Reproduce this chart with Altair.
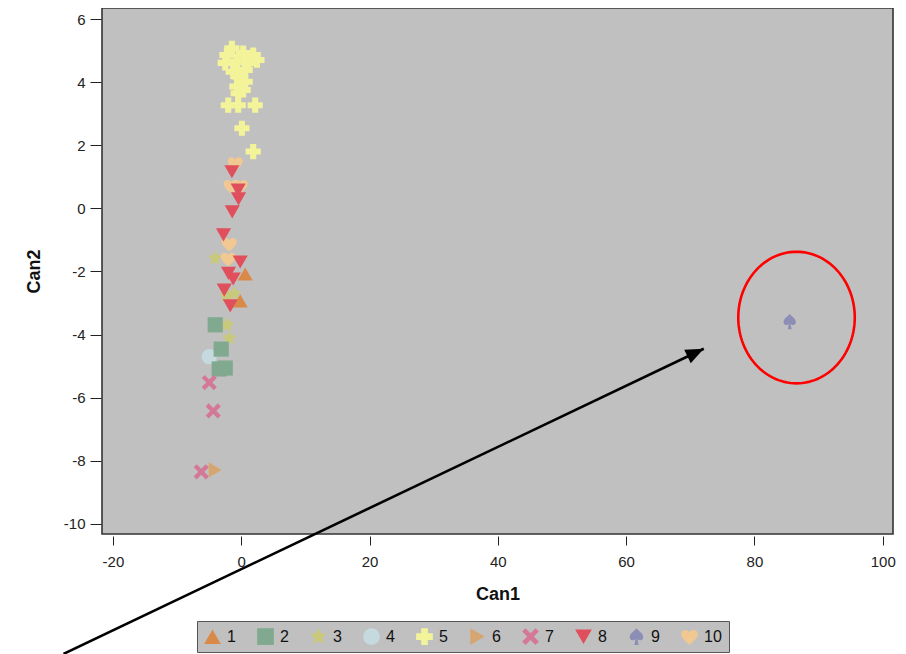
import altair as alt
import pandas as pd
import numpy as np

# ---------------- data ----------------
groups = ["1", "2", "3", "4", "5", "6", "7", "8", "9", "10"]
colors = ["#D98A48", "#80A990", "#C9C97C", "#C5DADF", "#F3F39A",
          "#D6A672", "#D47898", "#E0505C", "#8C8EB6", "#F2C892"]

g1_x = [0.62, -0.16]
g1_y = [-2.08, -2.93]
g2_x = [-4.05, -3.12, -3.43, -2.49]
g2_y = [-3.69, -4.46, -5.09, -5.06]
g3_x = [-4.05, -2.34, -1.09, -2.18, -1.87]
g3_y = [-1.58, -2.78, -2.70, -3.69, -4.11]
g4_x = [-4.98]
g4_y = [-4.70]
g5_x = [-1.45, -2.23, 0.31, 1.87, 2.45, -2.49, -0.67, 1.09, -1.25, 0.62,
        -0.16, 0.62, -0.67, 0.31, -0.47, -2.02, -0.47, 2.18, 0.11, 1.87]
g5_y = [5.07, 4.86, 4.92, 4.86, 4.70, 4.61, 4.65, 4.61, 4.33, 4.39,
        4.17, 4.01, 3.86, 3.75, 3.65, 3.27, 3.27, 3.27, 2.54, 1.80]
g6_x = [-4.05]
g6_y = [-8.29]
g7_x = [-4.98, -4.36, -6.23]
g7_y = [-5.52, -6.42, -8.35]
g8_x = [-1.45, -0.47, -0.42, -1.40, -2.76, -0.16, -1.98, -1.25, -2.65, -1.71]
g8_y = [1.16, 0.58, 0.30, -0.11, -0.84, -1.70, -2.06, -2.24, -2.59, -3.09]
g9_x = [85.5]
g9_y = [-3.59]
g10_x = [-0.93, -1.56, -0.16, -1.87, -2.02]
g10_y = [1.43, 0.71, 0.71, -1.13, -1.60]

# annotation (red ellipse around the outlier, arrow pointing to it)
ellipse_center = (86.56, -3.46)
ellipse_radii = (9.08, 2.085)
arrow_start = (-27.7, -14.12)
arrow_tip = (72.1, -4.45)

# axis settings
x_domain = [-21.7, 101.6]
y_domain = [-10.32, 6.35]
x_ticks = [-20, 0, 20, 40, 60, 80, 100]
y_ticks = [-10, -8, -6, -4, -2, 0, 2, 4, 6]

# ---------------- shapes ----------------
STAR = ("M0,-1 L0.3,-0.41 L0.951,-0.309 L0.48,0.156 L0.588,0.809 "
        "L0,0.52 L-0.588,0.809 L-0.48,0.156 L-0.951,-0.309 L-0.3,-0.41 Z")
XSHAPE = ("M-1,-0.6 L-0.6,-1 L0,-0.4 L0.6,-1 L1,-0.6 L0.4,0 L1,0.6 "
          "L0.6,1 L0,0.4 L-0.6,1 L-1,0.6 L-0.4,0 Z")
SPADE = ("M0,-1 C0.3,-0.6 0.9,-0.35 0.8,0.15 C0.7,0.55 0.3,0.5 0.12,0.3 "
         "L0.25,1 L-0.25,1 L-0.12,0.3 C-0.3,0.5 -0.7,0.55 -0.8,0.15 "
         "C-0.9,-0.35 -0.3,-0.6 0,-1 Z")
HEART = ("M0,1 C-0.3,0.7 -1,0.2 -1,-0.3 C-1,-0.8 -0.3,-1 0,-0.5 "
         "C0.3,-1 1,-0.8 1,-0.3 C1,0.2 0.3,0.7 0,1 Z")
shapes = ["triangle-up", "square", STAR, "circle", "cross",
          "triangle-right", XSHAPE, "triangle-down", SPADE, HEART]
ARROWHEAD = "M0,0 L0.42,1 L-0.42,1 Z"

# ---------------- build tables ----------------
series = {"1": (g1_x, g1_y), "2": (g2_x, g2_y), "3": (g3_x, g3_y),
          "4": (g4_x, g4_y), "5": (g5_x, g5_y), "6": (g6_x, g6_y),
          "7": (g7_x, g7_y), "8": (g8_x, g8_y), "9": (g9_x, g9_y),
          "10": (g10_x, g10_y)}
draw_order = ["5", "3", "10", "4", "2", "1", "8", "6", "7", "9"]
rows = []
for g in draw_order:
    xs_, ys_ = series[g]
    for a, b in zip(xs_, ys_):
        rows.append({"Can1": a, "Can2": b, "Group": g})
df = pd.DataFrame(rows)

W, H = 791, 526
FONT = "Liberation Sans"

xs = alt.Scale(domain=x_domain, nice=False, zero=False)
ys = alt.Scale(domain=y_domain, nice=False, zero=False)

points = alt.Chart(df).mark_point(filled=True, opacity=1, size=230).encode(
    x=alt.X("Can1:Q", scale=xs, title="Can1",
            axis=alt.Axis(values=x_ticks, grid=False, domain=False,
                          tickSize=9, offset=2, labelPadding=9,
                          titlePadding=16, labelExpr="'' + datum.value")),
    y=alt.Y("Can2:Q", scale=ys, title="Can2",
            axis=alt.Axis(values=y_ticks, grid=False, domain=False,
                          tickSize=11, offset=1, labelPadding=5,
                          titlePadding=20, labelExpr="'' + datum.value")),
    color=alt.Color("Group:N", scale=alt.Scale(domain=groups, range=colors),
                    legend=alt.Legend(orient="none", legendX=95, legendY=613,
                                      direction="horizontal", columns=10,
                                      title=None, symbolSize=280,
                                      labelFontSize=16, labelFont=FONT,
                                      labelColor="#111", labelOffset=6,
                                      fillColor="#C0C0C0", strokeColor="#555",
                                      padding=7, columnPadding=21,
                                      symbolStrokeWidth=0, symbolOpacity=1)),
    shape=alt.Shape("Group:N", scale=alt.Scale(domain=groups, range=shapes),
                    legend=None),
    order=alt.Order("idx:Q"),
).transform_window(idx="row_number()")

# ellipse annotation
t = np.linspace(0, 2 * np.pi, 121)
ell = pd.DataFrame({
    "Can1": ellipse_center[0] + ellipse_radii[0] * np.cos(t),
    "Can2": ellipse_center[1] + ellipse_radii[1] * np.sin(t),
    "k": np.arange(len(t)),
})
ellipse = alt.Chart(ell).mark_line(color="#FF0000", strokeWidth=2.6).encode(
    x=alt.X("Can1:Q", scale=xs), y=alt.Y("Can2:Q", scale=ys),
    order="k:Q")

# arrow annotation
arr = pd.DataFrame({"x": [arrow_start[0]], "y": [arrow_start[1]],
                    "x2": [arrow_tip[0]], "y2": [arrow_tip[1]]})
arrow_line = alt.Chart(arr).mark_rule(color="black", strokeWidth=2.6).encode(
    x=alt.X("x:Q", scale=xs), y=alt.Y("y:Q", scale=ys),
    x2="x2:Q", y2="y2:Q")

kx = W / (x_domain[1] - x_domain[0])
ky = H / (y_domain[1] - y_domain[0])
dx = (arrow_tip[0] - arrow_start[0]) * kx
dy = (arrow_tip[1] - arrow_start[1]) * ky
ang = float(np.degrees(np.arctan2(dx, dy)))
head = alt.Chart(pd.DataFrame({"x": [arrow_tip[0]], "y": [arrow_tip[1]]})).mark_point(
    shape=ARROWHEAD, filled=True, color="black", opacity=1, size=1300, angle=ang
).encode(x=alt.X("x:Q", scale=xs), y=alt.Y("y:Q", scale=ys))

chart = alt.layer(points, ellipse, arrow_line, head).properties(
    width=W, height=H,
    autosize=alt.AutoSizeParams(type="none"),
    padding={"left": 94, "top": 0, "right": 5, "bottom": 120},
    background="white",
).configure_view(
    fill="#C0C0C0", stroke="#333333", strokeWidth=1.6
).configure_axis(
    labelFont=FONT, labelFontSize=15, labelColor="#222",
    tickColor="#222", tickWidth=1,
    titleFont=FONT, titleFontSize=18, titleFontWeight="bold", titleColor="#111"
)

chart.save("out.html", embed_options={"renderer": "svg", "actions": False})
